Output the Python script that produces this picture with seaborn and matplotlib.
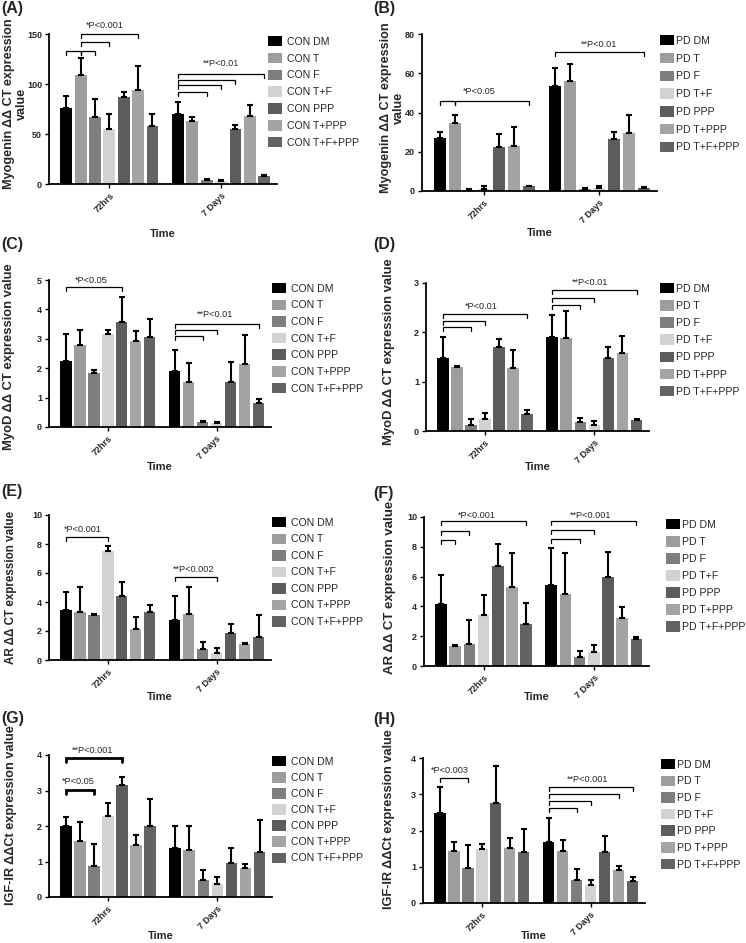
import numpy as np
import pandas as pd
import matplotlib
matplotlib.use("Agg")
import matplotlib.pyplot as plt
from matplotlib.patches import Patch
import seaborn as sns

sns.set_theme(style="ticks")
plt.rcParams['font.family'] = ['Liberation Sans', 'DejaVu Sans']

# ---------------- data ----------------
groups = ["72hrs", "7 Days"]
treatments = ["DM", "T", "F", "T+F", "PPP", "T+PPP", "T+F+PPP"]
con_labels = ["CON " + t for t in treatments]
pd_labels = ["PD " + t for t in treatments]
bar_colors = ["#000000", "#9d9d9d", "#7e7e7e", "#d2d2d2", "#5c5c5c", "#a4a4a4", "#636363"]

# (A) Myogenin, CON
a_72 = [76.5, 109, 67, 55, 87.4, 94.4, 58]
a_72_err = [11.9, 17, 18, 15.5, 4.3, 23.6, 12]
a_7d = [70, 63, 4.3, 3.3, 55, 68.5, 8.3]
a_7d_err = [12.5, 4, 0.7, 0.7, 4, 11, 1]
# (B) Myogenin, PD
b_72 = [27.2, 34.6, 0.7, 1.2, 22.6, 23, 2.4]
b_72_err = [2.8, 4.2, 0.2, 1.3, 6.4, 9.8, 0.4]
b_7d = [53.6, 56.3, 1.2, 1.4, 26.4, 29.4, 1.5]
b_7d_err = [8.9, 8.2, 0.3, 1.1, 3.6, 9.1, 0.3]
# (C) MyoD, CON
c_72 = [2.26, 2.78, 1.83, 3.17, 3.57, 2.94, 3.07]
c_72_err = [0.9, 0.52, 0.12, 0.13, 0.84, 0.33, 0.62]
c_7d = [1.89, 1.54, 0.16, 0.14, 1.54, 2.13, 0.8]
c_7d_err = [0.72, 0.65, 0.03, 0.02, 0.67, 0.99, 0.16]
# (D) MyoD, PD
d_72 = [1.48, 1.29, 0.12, 0.24, 1.71, 1.27, 0.34]
d_72_err = [0.42, 0.03, 0.12, 0.13, 0.16, 0.37, 0.08]
d_7d = [1.9, 1.89, 0.18, 0.13, 1.48, 1.58, 0.22]
d_7d_err = [0.46, 0.54, 0.08, 0.07, 0.23, 0.34, 0.03]
# (E) AR, CON
e_72 = [3.46, 3.3, 3.12, 7.52, 4.38, 2.13, 3.3]
e_72_err = [1.26, 1.72, 0.05, 0.35, 0.99, 0.83, 0.5]
e_7d = [2.78, 3.14, 0.78, 0.48, 1.86, 1.1, 1.6]
e_7d_err = [1.65, 1.91, 0.44, 0.35, 0.64, 0.07, 1.5]
# (F) AR, PD
f_72 = [4.13, 1.33, 1.5, 3.42, 6.72, 5.28, 2.85]
f_72_err = [2.0, 0.07, 1.58, 1.34, 1.48, 2.29, 1.35]
f_7d = [5.46, 4.81, 0.61, 0.94, 5.98, 3.24, 1.78]
f_7d_err = [2.43, 2.79, 0.38, 0.5, 1.66, 0.72, 0.18]
# (G) IGF-IR, CON
g_72 = [1.99, 1.58, 0.86, 2.27, 3.16, 1.47, 1.99]
g_72_err = [0.25, 0.52, 0.64, 0.39, 0.23, 0.29, 0.77]
g_7d = [1.37, 1.32, 0.47, 0.37, 0.96, 0.83, 1.26]
g_7d_err = [0.63, 0.67, 0.3, 0.19, 0.42, 0.11, 0.91]
# (H) IGF-IR, PD
h_72 = [2.47, 1.44, 0.96, 1.48, 2.76, 1.51, 1.4]
h_72_err = [0.73, 0.25, 0.64, 0.15, 1.01, 0.27, 0.63]
h_7d = [1.67, 1.44, 0.63, 0.5, 1.4, 0.92, 0.61]
h_7d_err = [0.68, 0.3, 0.31, 0.14, 0.45, 0.11, 0.12]

yl_myog = "Myogenin \u0394\u0394 CT expression\nvalue"
yl_myod = "MyoD \u0394\u0394 CT expression value"
yl_ar = "AR \u0394\u0394 CT expression value"
yl_igf = "IGF-IR \u0394\u0394Ct expression value"

# ---------------- layout ----------------
W, H = 746, 943
fig = plt.figure(figsize=(W / 100, H / 100), dpi=100)

panels = [
    dict(tag="(A)", tagpos=(1, 1), box=(49, 277, 34, 184), data=(a_72, a_72_err, a_7d, a_7d_err),
         ymax=150, yticks=[0, 50, 100, 150], ylabel=yl_myog, ylfs=9.1, ylpos=(28, 104),
         xlab_y=234, labels=con_labels, leg=(268, 36), legfs=7.6, legsp=0.57, htp=0.45,
         brackets=[(0, 0, 1, 133), (0, 1, 2, 133), (0, 1, 3, 142), (0, 1, 5, 150),
                   (1, 0, 2, 92), (1, 0, 3, 98.7), (1, 0, 4, 103.6), (1, 0, 6, 109.6)],
         texts=[(0, 2.7, 159, "*P<0.001"), (1, 3.0, 121, "**P<0.01")], blw=0.9),
    dict(tag="(B)", tagpos=(373, 1), box=(422, 657, 34, 191), data=(b_72, b_72_err, b_7d, b_7d_err),
         ymax=80, yticks=[0, 20, 40, 60, 80], ylabel=yl_myog, ylfs=9.1, ylpos=(405, 108),
         xlab_y=233, labels=pd_labels, leg=(660, 35), legfs=7.6, legsp=0.66, htp=0.2,
         brackets=[(0, 0, 1, 46), (0, 1, 6, 46), (1, 0, 6, 71)],
         texts=[(0, 2.7, 50.5, "*P<0.05"), (1, 3.0, 74.5, "**P<0.01")], blw=0.9),
    dict(tag="(C)", tagpos=(1, 237), box=(49, 271, 280, 427), data=(c_72, c_72_err, c_7d, c_7d_err),
         ymax=5, yticks=[0, 1, 2, 3, 4, 5], ylabel=yl_myod, ylfs=9.4, ylpos=(15, 357),
         xlab_y=467, labels=con_labels, leg=(272, 283), legfs=7.6, legsp=0.55, htp=0.45,
         brackets=[(0, 0, 4, 4.77), (1, 0, 2, 3.1), (1, 0, 3, 3.3), (1, 0, 6, 3.51)],
         texts=[(0, 1.8, 4.98, "*P<0.05"), (1, 2.9, 3.81, "**P<0.01")], blw=0.9),
    dict(tag="(D)", tagpos=(373, 237), box=(426, 649, 283, 431), data=(d_72, d_72_err, d_7d, d_7d_err),
         ymax=3, yticks=[0, 1, 2, 3], ylabel=yl_myod, ylfs=9.4, ylpos=(395, 352),
         xlab_y=467, labels=pd_labels, leg=(660, 283), legfs=7.6, legsp=0.60, htp=0.2,
         brackets=[(0, 0, 2, 2.11), (0, 0, 3, 2.23), (0, 0, 6, 2.37),
                   (1, 0, 2, 2.55), (1, 0, 3, 2.70), (1, 0, 6, 2.85)],
         texts=[(0, 2.7, 2.53, "*P<0.01"), (1, 2.7, 3.02, "**P<0.01")], blw=0.9),
    dict(tag="(E)", tagpos=(1, 484), box=(49, 271, 515, 660), data=(e_72, e_72_err, e_7d, e_7d_err),
         ymax=10, yticks=[0, 2, 4, 6, 8, 10], ylabel=yl_ar, ylfs=8.4, ylpos=(17, 587),
         xlab_y=697, labels=con_labels, leg=(272, 517), legfs=7.6, legsp=0.54, htp=0.45,
         brackets=[(0, 0, 3, 8.46), (1, 0, 3, 5.71)],
         texts=[(0, 1.25, 8.97, "*P<0.001"), (1, 1.35, 6.22, "**P<0.002")], blw=0.9),
    dict(tag="(F)", tagpos=(373, 486), box=(424, 649, 517, 666), data=(f_72, f_72_err, f_7d, f_7d_err),
         ymax=10, yticks=[0, 2, 4, 6, 8, 10], ylabel=yl_ar, ylfs=9.5, ylpos=(396, 587),
         xlab_y=697, labels=pd_labels, leg=(666, 519), legfs=7.6, legsp=0.59, htp=0.2,
         brackets=[(0, 0, 1, 8.47), (0, 0, 2, 9.03), (0, 0, 6, 9.7),
                   (1, 0, 2, 8.52), (1, 0, 3, 9.15), (1, 0, 6, 9.71)],
         texts=[(0, 2.5, 10.12, "*P<0.001"), (1, 2.75, 10.12, "**P<0.001")], blw=0.9),
    dict(tag="(G)", tagpos=(1, 711), box=(49, 272, 755, 897), data=(g_72, g_72_err, g_7d, g_7d_err),
         ymax=4, yticks=[0, 1, 2, 3, 4], ylabel=yl_igf, ylfs=9.2, ylpos=(17, 815),
         xlab_y=936, labels=con_labels, leg=(272, 756), legfs=7.6, legsp=0.50, htp=0.45,
         brackets=[(0, 0, 2, 3.02), (0, 0, 4, 3.91)],
         texts=[(0, 0.85, 3.25, "*P<0.05"), (0, 1.9, 4.14, "**P<0.001")], blw=2.0),
    dict(tag="(H)", tagpos=(373, 712), box=(423, 645, 758, 903), data=(h_72, h_72_err, h_7d, h_7d_err),
         ymax=4, yticks=[0, 1, 2, 3, 4], ylabel=yl_igf, ylfs=9.2, ylpos=(395, 819),
         xlab_y=936, labels=pd_labels, leg=(661, 759), legfs=7.6, legsp=0.55, htp=0.2,
         brackets=[(0, 0, 2, 3.45), (1, 0, 2, 2.61), (1, 0, 3, 2.81), (1, 0, 5, 3.0), (1, 0, 6, 3.2)],
         texts=[(0, 0.7, 3.66, "*P<0.003"), (1, 2.8, 3.4, "**P<0.001")], blw=0.9),
]

for p in panels:
    L, R, T, B = p["box"]
    ax = fig.add_axes([L / W, 1 - B / H, (R - L) / W, (B - T) / H])
    m72, e72, m7, e7 = p["data"]
    labels = p["labels"]
    df = pd.DataFrame({
        "Time": [groups[0]] * 7 + [groups[1]] * 7,
        "Treatment": labels + labels,
        "value": list(m72) + list(m7),
        "err": list(e72) + list(e7),
    })
    sns.barplot(data=df, x="Time", y="value", hue="Treatment", order=groups,
                hue_order=labels, palette=bar_colors, errorbar=None, width=0.9,
                gap=0.18, legend=False, ax=ax, linewidth=0, saturation=1)

    # bar positions from seaborn's patches
    bars = sorted([b for b in ax.patches], key=lambda b: b.get_x())
    xc = np.array([b.get_x() + b.get_width() / 2 for b in bars])
    hts = np.array([b.get_height() for b in bars])
    pos = {(0, i): xc[i] for i in range(7)}
    pos.update({(1, i): xc[7 + i] for i in range(7)})
    errs = df["err"].to_numpy()
    ax.errorbar(xc, hts, yerr=[np.zeros_like(errs), errs], fmt="none", ecolor="black",
                elinewidth=1.5, capsize=2.2, capthick=1.5, zorder=5, clip_on=False)

    ymax = p["ymax"]
    ax.set_ylim(0, ymax)
    ax.set_xlim(-0.54, 1.5)
    ax.set_yticks(p["yticks"])
    ax.set_yticklabels([str(t) for t in p["yticks"]], fontsize=6.5, fontweight="bold")
    ax.set_xticks([0, 1])
    ax.set_xticklabels(groups, rotation=45, ha="right", rotation_mode="anchor",
                       fontsize=6.5, fontweight="bold")
    ax.tick_params(axis="both", length=3, width=1, pad=2, color="black")
    sns.despine(ax=ax)
    for s in ("left", "bottom"):
        ax.spines[s].set_linewidth(1.3)
        ax.spines[s].set_color("black")

    # axis labels
    ax.set_xlabel("Time", fontsize=8, fontweight="bold")
    ax.xaxis.set_label_coords(0.5, (B - (p["xlab_y"] - 5)) / (B - T))
    ax.set_ylabel(p["ylabel"], fontsize=p["ylfs"], fontweight="bold", linespacing=1.15)
    rx, cy = p["ylpos"]
    ax.yaxis.set_label_coords((rx - L) / (R - L), (B - cy) / (B - T))

    # significance brackets
    leg = 4.0 * ymax / (B - T)
    for g, i, j, y in p["brackets"]:
        x0, x1 = pos[(g, i)], pos[(g, j)]
        ax.plot([x0, x0, x1, x1], [y - leg, y, y, y - leg], color="black",
                lw=p["blw"], clip_on=False, zorder=6, solid_joinstyle="miter")
    slot = xc[1] - xc[0]
    for g, idx, y, s in p["texts"]:
        ax.text(pos[(g, 0)] + idx * slot, y, s, ha="center", va="center",
                fontsize=6.6, clip_on=False)

    # legend
    handles = [Patch(facecolor=c, edgecolor="none") for c in bar_colors]
    lx, ty = p["leg"]
    ax.legend(handles, labels, loc="upper left", bbox_to_anchor=(lx / W, 1 - ty / H),
              bbox_transform=fig.transFigure, frameon=False, fontsize=p["legfs"],
              handlelength=1.35, handleheight=1.15, handletextpad=p["htp"],
              labelspacing=p["legsp"], borderpad=0, borderaxespad=0)

    # panel tag
    tx, tyy = p["tagpos"]
    fig.text(tx / W, 1 - tyy / H, p["tag"], fontsize=11.5, fontweight="bold",
             ha="left", va="top")

fig.savefig("out.png", dpi=100)
